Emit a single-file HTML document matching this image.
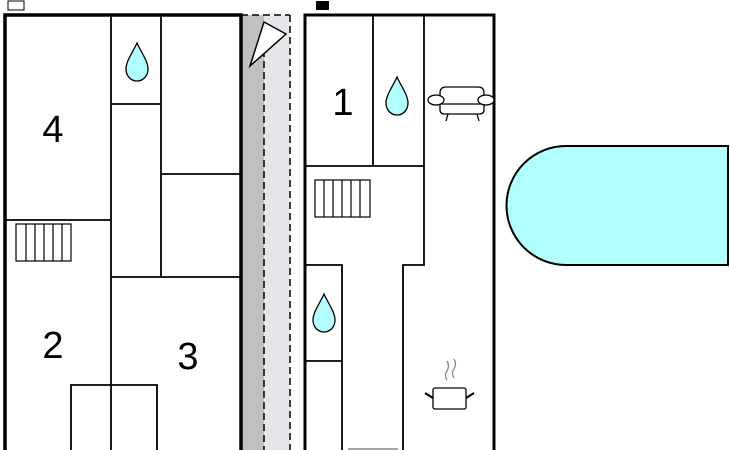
<!DOCTYPE html>
<html><head><meta charset="utf-8"><style>
html,body{margin:0;padding:0;background:#fff;width:730px;height:450px;overflow:hidden}
svg text{font-family:"Liberation Sans",sans-serif;fill:#000}
</style></head><body>
<svg width="730" height="450" viewBox="0 0 730 450" xmlns="http://www.w3.org/2000/svg">
<!-- gray strip -->
<rect x="242" y="15" width="22" height="440" fill="#c0c0c0"/>
<rect x="264" y="15" width="26" height="440" fill="#e6e6ea"/>
<g stroke="#000" stroke-width="1.5" stroke-dasharray="7,4" fill="none">
<line x1="264" y1="50" x2="264" y2="450"/>
<line x1="290" y1="15" x2="290" y2="450"/>
<line x1="241" y1="15" x2="290" y2="15"/>
</g>
<polygon points="264,22 286,34 250,66" fill="#fff" stroke="#000" stroke-width="1.5"/>
<!-- small top markers -->
<rect x="8" y="1" width="16" height="9" fill="#fff" stroke="#000" stroke-width="1"/>
<rect x="316" y="1" width="13" height="9" fill="#000"/>
<!-- left building -->
<g stroke="#000" fill="none">
<path d="M5,450 V15 H241 V450" stroke-width="3.5"/>
<g stroke-width="1.8">
<line x1="111" y1="15" x2="111" y2="450"/>
<line x1="161" y1="15" x2="161" y2="277"/>
<line x1="111" y1="104" x2="161" y2="104"/>
<line x1="5" y1="220" x2="111" y2="220"/>
<line x1="161" y1="174" x2="241" y2="174"/>
<line x1="111" y1="277" x2="241" y2="277"/>
<path d="M71,450 V385 H157 V450"/>
</g>
<g stroke-width="1.2">
<rect x="16" y="224" width="55" height="37"/>
<line x1="26" y1="224" x2="26" y2="261"/><line x1="35" y1="224" x2="35" y2="261"/>
<line x1="44" y1="224" x2="44" y2="261"/><line x1="53" y1="224" x2="53" y2="261"/>
<line x1="62" y1="224" x2="62" y2="261"/>
</g>
</g>
<!-- right building -->
<g stroke="#000" fill="none">
<path d="M305,450 V15 H494 V450" stroke-width="3"/>
<g stroke-width="1.8">
<line x1="373" y1="15" x2="373" y2="166"/>
<path d="M424,15 V265 H403 V450"/>
<line x1="305" y1="166" x2="424" y2="166"/>
<path d="M305,265 H342 V450"/>
<line x1="305" y1="361" x2="342" y2="361"/>
</g>
<g stroke-width="1.2">
<rect x="315" y="180" width="55" height="37"/>
<line x1="324" y1="180" x2="324" y2="217"/><line x1="333" y1="180" x2="333" y2="217"/>
<line x1="342" y1="180" x2="342" y2="217"/><line x1="351" y1="180" x2="351" y2="217"/>
<line x1="360" y1="180" x2="360" y2="217"/>
</g>
</g>
<line x1="348" y1="449" x2="398" y2="449" stroke="#888" stroke-width="1.5"/>
<!-- drops -->
<g fill="#b3ffff" stroke="#000" stroke-width="1.3">
<path d="M137,43 C141,52 148,61 148,69 C148,76 143,81 137,81 C131,81 126,76 126,69 C126,61 133,52 137,43 Z"/>
<path d="M397,77 C401,86 408,95 408,103 C408,110 403,115 397,115 C391,115 386,110 386,103 C386,95 393,86 397,77 Z"/>
<path d="M324,294 C328,303 335,312 335,320 C335,327 330,332 324,332 C318,332 313,327 313,320 C313,312 320,303 324,294 Z"/>
</g>
<!-- sofa -->
<g fill="#fff" stroke="#000" stroke-width="1.3">
<path d="M440,100 V93 Q440,87 446,87 H478 Q484,87 484,93 V100"/>
<path d="M440,104 V110 Q440,114 445,114 H479 Q484,114 484,110 V104"/>
<line x1="440" y1="104" x2="484" y2="104"/>
<ellipse cx="436" cy="100" rx="8" ry="5"/>
<ellipse cx="486" cy="100" rx="8" ry="5"/>
<line x1="448" y1="114" x2="446" y2="121"/><line x1="477" y1="114" x2="479" y2="121"/>
</g>
<!-- pot -->
<g fill="none">
<path d="M447,380 q-3,-5 0,-9 q3,-5 0,-10" stroke="#888" stroke-width="1.3"/>
<path d="M454,378 q-3,-5 0,-9 q3,-5 0,-10" stroke="#888" stroke-width="1.3"/>
<rect x="433" y="388" width="33" height="21" rx="2" fill="#fff" stroke="#000" stroke-width="1.3"/>
<line x1="425" y1="393" x2="433" y2="398" stroke="#000" stroke-width="2.2"/>
<line x1="474" y1="393" x2="466" y2="398" stroke="#000" stroke-width="2.2"/>
</g>
<!-- pool -->
<path d="M728,146 H566 A59.5,59.5 0 0 0 566,265 H728 Z" fill="#b3ffff" stroke="#000" stroke-width="2"/>
<!-- labels -->
<text x="53" y="142" font-size="38" text-anchor="middle">4</text>
<text x="53" y="358" font-size="38" text-anchor="middle">2</text>
<text x="188" y="369" font-size="38" text-anchor="middle">3</text>
<text x="343" y="115" font-size="38" text-anchor="middle">1</text>
</svg>
</body></html>
